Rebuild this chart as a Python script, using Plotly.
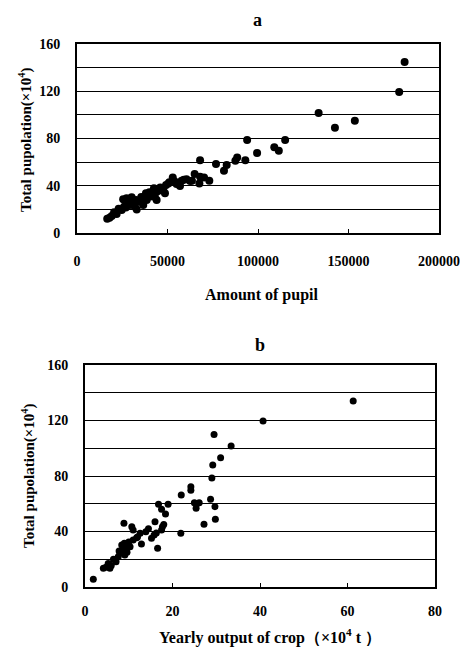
import plotly.graph_objects as go

# Panel a: Amount of pupil vs total population (x10^4)
pupil = [181000, 178000, 133500, 142500, 153500, 115000, 109000, 111500, 99500, 94000,
         93000, 88500, 87500, 82700, 81200, 76800, 68000, 65000, 68000, 67600,
         70200, 73100, 63500, 52900, 57800, 56900, 49200, 47700, 44000, 48600,
         42500, 38500, 38100, 34800, 32000, 30200, 27400, 32600, 29300, 33000,
         26000, 24700, 21900, 19200, 16700, 18000, 36600, 44000, 46000, 40500,
         51000, 55000, 59000, 28500, 31000, 35500, 40000, 23000, 20500, 45500,
         50500, 54000, 60500, 62500, 37000, 41500, 29500, 27000, 25500, 43000]
pop_a = [144.8, 119.4, 101.6, 89.0, 95.0, 78.7, 72.5, 69.7, 67.7, 78.7,
         61.5, 64.0, 61.2, 57.5, 52.8, 58.4, 61.5, 50.0, 47.7, 42.0,
         47.0, 44.3, 44.3, 47.0, 44.3, 39.8, 40.6, 37.8, 35.0, 33.6,
         37.8, 27.9, 33.6, 26.5, 22.3, 30.2, 29.4, 27.9, 23.7, 20.0,
         22.3, 19.5, 16.0, 14.4, 12.1, 13.0, 23.7, 27.9, 38.5, 31.0,
         43.0, 41.5, 45.0, 25.0, 26.0, 30.5, 34.5, 20.5, 17.5, 36.0,
         42.0, 43.5, 45.5, 44.0, 29.0, 32.0, 24.5, 21.5, 28.5, 30.5]

# Panel b: Yearly output of crop (x10^4 t) vs total population (x10^4)
crop = [61.3, 40.7, 29.5, 33.4, 31.0, 29.2, 29.0, 24.2, 24.2, 22.0,
        28.7, 25.0, 25.5, 26.1, 25.4, 29.7, 27.2, 29.8, 21.9, 19.0,
        16.8, 17.5, 18.4, 16.0, 17.7, 17.5, 16.6, 15.2, 15.8, 13.9,
        12.6, 11.0, 10.7, 8.9, 12.9, 11.0, 10.3, 8.4, 8.8, 9.1,
        8.0, 9.5, 7.6, 6.5, 7.1, 5.3, 4.8, 5.7, 4.2, 1.9,
        10.0, 9.0, 11.8, 14.5, 7.8, 6.0, 9.6, 12.0, 16.3, 18.0]
pop_b = [134.0, 119.6, 110.0, 101.6, 93.2, 87.9, 78.6, 72.3, 69.7, 66.3,
         63.2, 60.8, 59.8, 60.8, 56.7, 57.9, 45.2, 48.8, 38.7, 59.6,
         59.6, 56.0, 52.6, 47.0, 43.5, 41.0, 27.9, 35.1, 37.5, 39.9,
         38.7, 41.1, 43.5, 45.9, 31.0, 33.9, 29.0, 30.3, 26.7, 23.0,
         24.3, 27.9, 21.8, 20.0, 18.2, 17.0, 14.2, 13.5, 13.5, 5.5,
         32.5, 31.5, 35.5, 42.0, 26.0, 15.5, 25.0, 36.0, 39.0, 45.0]

x_ticks_a = [0, 50000, 100000, 150000, 200000]
x_ticks_b = [0, 20, 40, 60, 80]
y_ticks = [0, 40, 80, 120, 160]

FONT = "Liberation Serif"
TICKFONT = dict(family=FONT, size=14, color="black")

# page has an 8px body margin; figure is sized to fit inside the window
OFF = 8
W, H = 468 - OFF, 647 - OFF


def px(X):
    return (X - OFF) / W


def py(Y):
    return 1 - (Y - OFF) / H


def bold(vals):
    return ["<b>%s</b>" % v for v in vals]


fig = go.Figure()
fig.add_trace(go.Scatter(x=pupil, y=pop_a, mode="markers", xaxis="x", yaxis="y",
                         marker=dict(color="black", size=8), showlegend=False))
fig.add_trace(go.Scatter(x=crop, y=pop_b, mode="markers", xaxis="x2", yaxis="y2",
                         marker=dict(color="black", size=7), showlegend=False))

axis_common = dict(showline=True, linecolor="black", linewidth=2, mirror=True,
                   zeroline=False, automargin=False, tickfont=TICKFONT)
grid = dict(showgrid=True, gridcolor="black", gridwidth=1,
            minor=dict(dtick=20, showgrid=True, gridcolor="black", gridwidth=1))

fig.update_layout(
    width=W, height=H, margin=dict(l=0, r=0, t=0, b=0, autoexpand=False),
    paper_bgcolor="white", plot_bgcolor="white",
    font=dict(family=FONT, color="black"),
    xaxis=dict(domain=[px(77), px(439)], anchor="y", range=[0, 200000],
               tickvals=x_ticks_a, ticktext=bold(x_ticks_a),
               showgrid=False, ticks="inside", ticklen=4, tickcolor="black",
               ticklabelstandoff=14, **axis_common),
    yaxis=dict(domain=[py(233), py(44)], anchor="x", range=[0, 160],
               tickvals=y_ticks, ticktext=bold(y_ticks), ticks="",
               ticklabelstandoff=12, **grid, **axis_common),
    xaxis2=dict(domain=[px(85), px(435)], anchor="y2", range=[0, 80],
                tickvals=x_ticks_b, ticktext=bold(x_ticks_b), showgrid=False,
                ticks="inside", ticklen=4, tickcolor="black", ticklabelstandoff=10,
                **axis_common),
    yaxis2=dict(domain=[py(587), py(365)], anchor="x2", range=[0, 160],
                tickvals=y_ticks, ticktext=bold(y_ticks), ticks="",
                ticklabelstandoff=12, **grid, **axis_common),
)

ann_font = dict(family=FONT, size=16, color="black")
common_ann = dict(xref="paper", yref="paper", showarrow=False,
                  xanchor="center", yanchor="middle")
fig.add_annotation(text="<b>a</b>", x=px(257), y=py(20),
                   font=dict(family=FONT, size=18, color="black"), **common_ann)
fig.add_annotation(text="<b>b</b>", x=px(260), y=py(345),
                   font=dict(family=FONT, size=18, color="black"), **common_ann)
fig.add_annotation(text="<b>Amount of pupil</b>", x=px(261), y=py(295),
                   font=ann_font, **common_ann)
fig.add_annotation(text="<b>Yearly output of crop（×10<sup>4</sup> t ）</b>", x=px(270),
                   y=py(636), font=ann_font, **common_ann)
fig.add_annotation(text="<b>Total pupolation(×10<sup>4</sup>)</b>", x=px(25), y=py(140),
                   textangle=-90, font=dict(family=FONT, size=15, color="black"),
                   **common_ann)
fig.add_annotation(text="<b>Total pupolation(×10<sup>4</sup>)</b>", x=px(28), y=py(476),
                   textangle=-90, font=dict(family=FONT, size=15, color="black"),
                   **common_ann)

fig.write_html("out.html")
